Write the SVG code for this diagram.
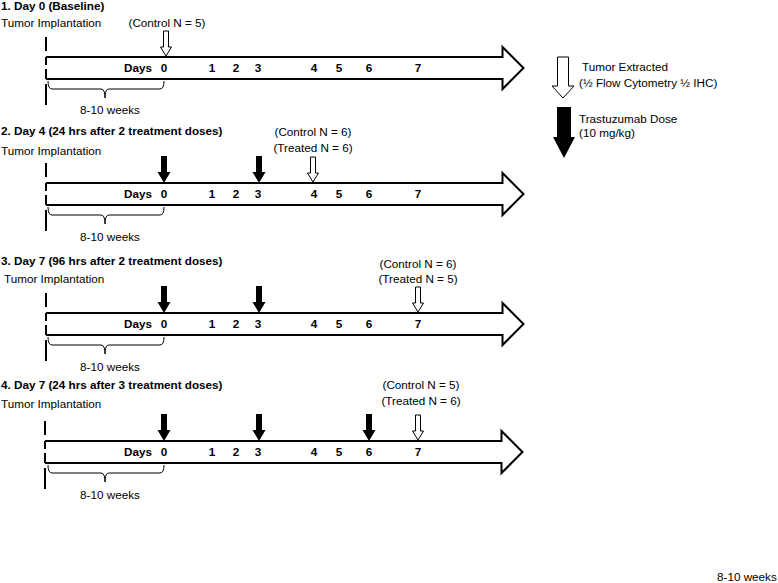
<svg xmlns="http://www.w3.org/2000/svg" xmlns:xlink="http://www.w3.org/1999/xlink" width="778" height="583" viewBox="0 0 778 583">
<style>
text{font-family:"Liberation Sans",Arial,sans-serif;fill:#000}
.h{font-size:11.7px;font-weight:bold}
.r{font-size:11.7px}
.d{font-size:11.7px;font-weight:bold}
.m{text-anchor:middle}
.tl{fill:#fff;stroke:#000;stroke-width:2}
.vl{stroke:#000;stroke-width:2;fill:none}
.br{stroke:#000;stroke-width:1;fill:none}
.blk{fill:#000}
.opn{fill:#fff;stroke:#000;stroke-width:1}
</style>
<defs>
<path id="tlArrow" class="tl" d="M0,-11 H456.5 V-21 L477.5,0 L456.5,21 V11 H0"/>
<g id="leftEdge">
<path class="vl" d="M0,-31 V-17 M0,-11 V-3 M0,1 V11 M0,16 V37"/>
</g>
<path id="brace" class="br" d="M48,13 Q48,21 52,21 L101,21 Q105,21 105,30 Q105,21 109,21 L160,21 Q164,21 164,13"/>
<path id="dose" class="blk" d="M-3,-27 H3 V-11 H6.5 L0,0 L-6.5,-11 H-3 Z"/>
<path id="ext" class="opn" d="M-2.5,-25 H2.5 V-9 H5.5 L0,0 L-5.5,-9 H-2.5 Z"/>
<g id="days">
<text class="d" x="152" y="4" text-anchor="end">Days</text>
<text class="d m" x="164" y="4">0</text>
<text class="d m" x="212" y="4">1</text>
<text class="d m" x="236" y="4">2</text>
<text class="d m" x="258" y="4">3</text>
<text class="d m" x="314" y="4">4</text>
<text class="d m" x="339" y="4">5</text>
<text class="d m" x="369" y="4">6</text>
<text class="d m" x="418" y="4">7</text>
</g>
</defs>

<g id="timeline1" transform="translate(0,68)">
<text class="h" x="1" y="-58">1. Day 0 (Baseline)</text>
<text class="r" x="1" y="-41">Tumor Implantation</text>
<text class="r m" x="167" y="-41">(Control N = 5)</text>
<use xlink:href="#tlArrow" x="46"/>
<use xlink:href="#leftEdge" x="46"/>
<use xlink:href="#days"/>
<use xlink:href="#brace"/>
<text class="r m" x="110" y="46">8-10 weeks</text>
<use xlink:href="#ext" x="166" y="-12"/>
</g>

<g id="timeline2" transform="translate(0,194)">
<text class="h" x="1" y="-59">2. Day 4 (24 hrs after 2 treatment doses)</text>
<text class="r" x="1" y="-39">Tumor Implantation</text>
<text class="r m" x="313" y="-58">(Control N = 6)</text>
<text class="r m" x="313" y="-42">(Treated N = 6)</text>
<use xlink:href="#tlArrow" x="46"/>
<use xlink:href="#leftEdge" x="46"/>
<use xlink:href="#days"/>
<use xlink:href="#brace"/>
<text class="r m" x="110" y="47">8-10 weeks</text>
<use xlink:href="#dose" x="164" y="-11"/>
<use xlink:href="#dose" x="259" y="-11"/>
<use xlink:href="#ext" x="313" y="-12"/>
</g>

<g id="timeline3" transform="translate(0,324)">
<text class="h" x="1" y="-59">3. Day 7 (96 hrs after 2 treatment doses)</text>
<text class="r" x="4" y="-41">Tumor Implantation</text>
<text class="r m" x="418" y="-56">(Control N = 6)</text>
<text class="r m" x="418" y="-41">(Treated N = 5)</text>
<use xlink:href="#tlArrow" x="46"/>
<use xlink:href="#leftEdge" x="46"/>
<use xlink:href="#days"/>
<use xlink:href="#brace"/>
<text class="r m" x="110" y="47">8-10 weeks</text>
<use xlink:href="#dose" x="164" y="-11"/>
<use xlink:href="#dose" x="259" y="-11"/>
<use xlink:href="#ext" x="418" y="-12"/>
</g>

<g id="timeline4" transform="translate(0,452)">
<text class="h" x="1" y="-63">4. Day 7 (24 hrs after 3 treatment doses)</text>
<text class="r" x="1" y="-44">Tumor Implantation</text>
<text class="r m" x="421" y="-63">(Control N = 5)</text>
<text class="r m" x="421" y="-47">(Treated N = 6)</text>
<use xlink:href="#tlArrow" x="45"/>
<use xlink:href="#leftEdge" x="45"/>
<use xlink:href="#days"/>
<use xlink:href="#brace"/>
<text class="r m" x="110" y="47">8-10 weeks</text>
<use xlink:href="#dose" x="164" y="-11"/>
<use xlink:href="#dose" x="259" y="-11"/>
<use xlink:href="#dose" x="369" y="-11"/>
<use xlink:href="#ext" x="418" y="-12"/>
</g>

<g id="legend-extracted">
<path class="opn" d="M557.5,57 H568.5 V86 H574 L563,98 L552,86 H557.5 Z"/>
<text class="r" x="582" y="71">Tumor Extracted</text>
<text class="r" x="579" y="87">(½ Flow Cytometry ½ IHC)</text>
</g>

<g id="legend-dose">
<path class="blk" d="M557,107 H571 V137 H575 L564,158 L553,137 H557 Z"/>
<text class="r" x="579" y="123">Trastuzumab Dose</text>
<text class="r" x="579" y="137">(10 mg/kg)</text>
</g>

<g id="footer">
<text class="r" x="717" y="581">8-10 weeks</text>
</g>
</svg>
